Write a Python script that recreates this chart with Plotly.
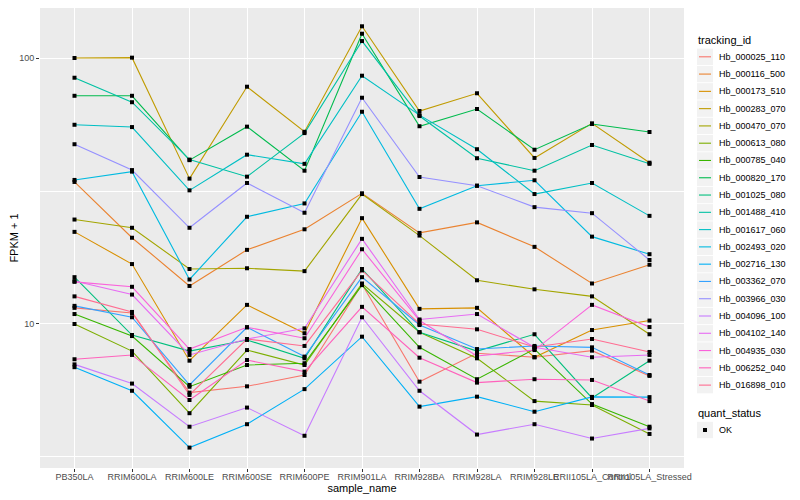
import plotly.graph_objects as go

samples = ["PB350LA", "RRIM600LA", "RRIM600LE", "RRIM600SE", "RRIM600PE", "RRIM901LA",
           "RRIM928BA", "RRIM928LA", "RRIM928LE", "RRII105LA_Control", "RRII105LA_Stressed"]

tracking_ids = ["Hb_000025_110", "Hb_000116_500", "Hb_000173_510", "Hb_000283_070", "Hb_000470_070",
                "Hb_000613_080", "Hb_000785_040", "Hb_000820_170", "Hb_001025_080", "Hb_001488_410",
                "Hb_001617_060", "Hb_002493_020", "Hb_002716_130", "Hb_003362_070", "Hb_003966_030",
                "Hb_004096_100", "Hb_004102_140", "Hb_004935_030", "Hb_006252_040", "Hb_016898_010"]

colors = ["#F8766D", "#EA8331", "#D89000", "#C09B00", "#A3A500", "#7CAE00", "#39B600", "#00BB4E",
          "#00BF7D", "#00C1A3", "#00BFC4", "#00BAE0", "#00B0F6", "#35A2FF", "#9590FF", "#C77CFF",
          "#E76BF3", "#FA62DB", "#FF62BC", "#FF6C91"]

# FPKM + 1 values, one list per tracking_id, in sample order
Hb_000025_110 = [11.5, 11.0, 5.52, 5.83, 6.43, 14.1, 6.07, 7.76, 7.50, 7.94, 6.38]
Hb_000116_500 = [34.2, 21.1, 13.9, 19.0, 22.7, 31.0, 22.0, 24.1, 19.5, 14.2, 16.7]
Hb_000173_510 = [22.2, 16.8, 7.28, 11.8, 9.23, 25.0, 11.4, 11.5, 7.50, 9.49, 10.3]
Hb_000283_070 = [100.0, 100.3, 35.2, 78.0, 52.8, 131.6, 63.2, 73.7, 42.1, 56.8, 40.4]
Hb_000470_070 = [24.7, 23.0, 16.1, 16.2, 15.8, 30.8, 21.5, 14.6, 13.5, 12.7, 9.15]
Hb_000613_080 = [10.0, 7.91, 4.62, 7.98, 7.01, 14.2, 9.31, 7.43, 5.13, 4.96, 3.86]
Hb_000785_040 = [10.9, 9.01, 5.81, 7.01, 7.12, 14.0, 8.17, 6.20, 8.05, 5.0, 4.11]
Hb_000820_170 = [72.1, 72.1, 41.3, 55.2, 37.7, 123.4, 55.4, 64.3, 45.2, 56.5, 52.7]
Hb_001025_080 = [15.0, 9.09, 7.91, 8.71, 7.43, 16.1, 9.31, 7.91, 9.15, 5.27, 7.28]
Hb_001488_410 = [84.3, 68.2, 41.5, 35.8, 52.2, 115.8, 60.5, 42.0, 37.7, 47.1, 40.0]
Hb_001617_060 = [56.1, 55.0, 31.8, 43.3, 40.0, 85.8, 61.0, 45.4, 30.8, 33.9, 25.5]
Hb_002493_020 = [34.8, 37.4, 14.7, 25.3, 28.4, 62.8, 27.1, 33.1, 34.7, 21.3, 18.3]
Hb_002716_130 = [6.88, 5.61, 3.43, 4.20, 5.69, 8.96, 4.89, 5.33, 4.68, 5.32, 5.31]
Hb_003362_070 = [11.7, 10.6, 5.90, 9.72, 7.54, 15.0, 9.91, 8.05, 8.27, 8.17, 6.43]
Hb_003966_030 = [47.4, 37.9, 23.0, 33.9, 26.2, 70.9, 35.7, 33.1, 27.5, 26.1, 17.4]
Hb_004096_100 = [7.05, 5.97, 4.11, 4.85, 3.80, 10.6, 5.61, 3.84, 4.20, 3.71, 4.05]
Hb_004102_140 = [14.5, 12.9, 7.65, 8.78, 9.63, 20.9, 10.4, 10.9, 8.17, 7.50, 7.65]
Hb_004935_030 = [14.4, 13.8, 8.05, 9.72, 8.84, 19.1, 10.3, 7.58, 7.98, 11.8, 9.74]
Hb_006252_040 = [7.37, 7.65, 5.18, 7.32, 6.62, 11.6, 7.47, 6.02, 6.20, 6.16, 5.13]
Hb_016898_010 = [12.7, 11.1, 5.41, 8.78, 8.27, 15.9, 10.0, 9.55, 8.19, 8.78, 7.85]

series = [Hb_000025_110, Hb_000116_500, Hb_000173_510, Hb_000283_070, Hb_000470_070,
          Hb_000613_080, Hb_000785_040, Hb_000820_170, Hb_001025_080, Hb_001488_410,
          Hb_001617_060, Hb_002493_020, Hb_002716_130, Hb_003362_070, Hb_003966_030,
          Hb_004096_100, Hb_004102_140, Hb_004935_030, Hb_006252_040, Hb_016898_010]

quant_status = "OK"

FONT = "Liberation Sans"
OFF = 8                      # page body margin offsets the figure inside the window
W, H = 800 - OFF, 500 - OFF
ML, MR, MT, MB = 32, 116, 0, 32
PW, PH = W - ML - MR, H - MT - MB


def px(xs):
    """window x pixel -> paper x"""
    return (xs - OFF - ML) / PW


def py(ys):
    """window y pixel -> paper y"""
    return (H - MB - (ys - OFF)) / PH


fig = go.Figure()
for name, col, vals in zip(tracking_ids, colors, series):
    fig.add_trace(go.Scatter(x=samples, y=vals, mode="lines", name=name,
                             line=dict(color=col, width=1.1), showlegend=False))

all_x, all_y = [], []
for vals in series:
    all_x += samples
    all_y += vals
fig.add_trace(go.Scatter(x=all_x, y=all_y, mode="markers", name=quant_status,
                         marker=dict(color="black", symbol="square", size=4),
                         showlegend=False))

# ---- legend drawn in ggplot style (grey key boxes) ----
shapes, annots = [], []
KX0, KX1, TX = 697, 713, 717
annots.append(dict(x=px(696), y=py(40.5), xref="paper", yref="paper", text="tracking_id",
                   showarrow=False, xanchor="left", yanchor="middle",
                   font=dict(size=11, color="black", family=FONT)))
for i, (name, col) in enumerate(zip(tracking_ids, colors)):
    cy = 56.8 + 17.28 * i
    shapes.append(dict(type="rect", xref="paper", yref="paper", x0=px(KX0), x1=px(KX1),
                       y0=py(cy - 8.2), y1=py(cy + 8.2), fillcolor="#F2F2F2", line=dict(width=0),
                       layer="above"))
    shapes.append(dict(type="line", xref="paper", yref="paper", x0=px(KX0 + 2), x1=px(KX1 - 2),
                       y0=py(cy), y1=py(cy), line=dict(color=col, width=1.1), layer="above"))
    annots.append(dict(x=px(TX), y=py(cy), xref="paper", yref="paper", text=name, showarrow=False,
                       xanchor="left", yanchor="middle", font=dict(size=9, color="black", family=FONT)))

annots.append(dict(x=px(696), y=py(412.5), xref="paper", yref="paper", text="quant_status",
                   showarrow=False, xanchor="left", yanchor="middle",
                   font=dict(size=11, color="black", family=FONT)))
ok_cy = 430
shapes.append(dict(type="rect", xref="paper", yref="paper", x0=px(KX0), x1=px(KX1),
                   y0=py(ok_cy - 8.2), y1=py(ok_cy + 8.2), fillcolor="#F2F2F2", line=dict(width=0),
                   layer="above"))
shapes.append(dict(type="rect", xref="paper", yref="paper", x0=px(703), x1=px(707),
                   y0=py(ok_cy - 2), y1=py(ok_cy + 2), fillcolor="black", line=dict(width=0),
                   layer="above"))
annots.append(dict(x=px(TX), y=py(ok_cy), xref="paper", yref="paper", text=quant_status, showarrow=False,
                   xanchor="left", yanchor="middle", font=dict(size=9, color="black", family=FONT)))

fig.update_layout(
    width=W, height=H,
    margin=dict(l=ML, r=MR, t=MT, b=MB, pad=0),
    paper_bgcolor="white", plot_bgcolor="#EBEBEB",
    font=dict(family=FONT, size=9, color="#4D4D4D"),
    showlegend=False,
    shapes=shapes, annotations=annots,
    xaxis=dict(type="category", range=[-0.6, 10.6], showgrid=True, gridcolor="white", gridwidth=1.1,
               ticks="outside", ticklen=3, tickcolor="#333333", tickangle=0, ticklabelstandoff=-3,
               tickfont=dict(size=9, color="#4D4D4D"),
               title=dict(text="sample_name", font=dict(size=11, color="black"), standoff=0),
               zeroline=False, showline=False, automargin=False),
    yaxis=dict(type="log", range=[0.4586, 2.188], tickvals=[10, 100], ticktext=["10", "100"],
               showgrid=True, gridcolor="white", gridwidth=1.1,
               minor=dict(tickvals=[3.1623, 31.623], showgrid=True, gridcolor="white", gridwidth=0.5, ticks=""),
               ticks="outside", ticklen=3, tickcolor="#333333", tickfont=dict(size=9, color="#4D4D4D"),
               title=dict(text="FPKM + 1", font=dict(size=11, color="black"), standoff=4),
               zeroline=False, showline=False, automargin=False),
)

fig.write_html("out.html")
